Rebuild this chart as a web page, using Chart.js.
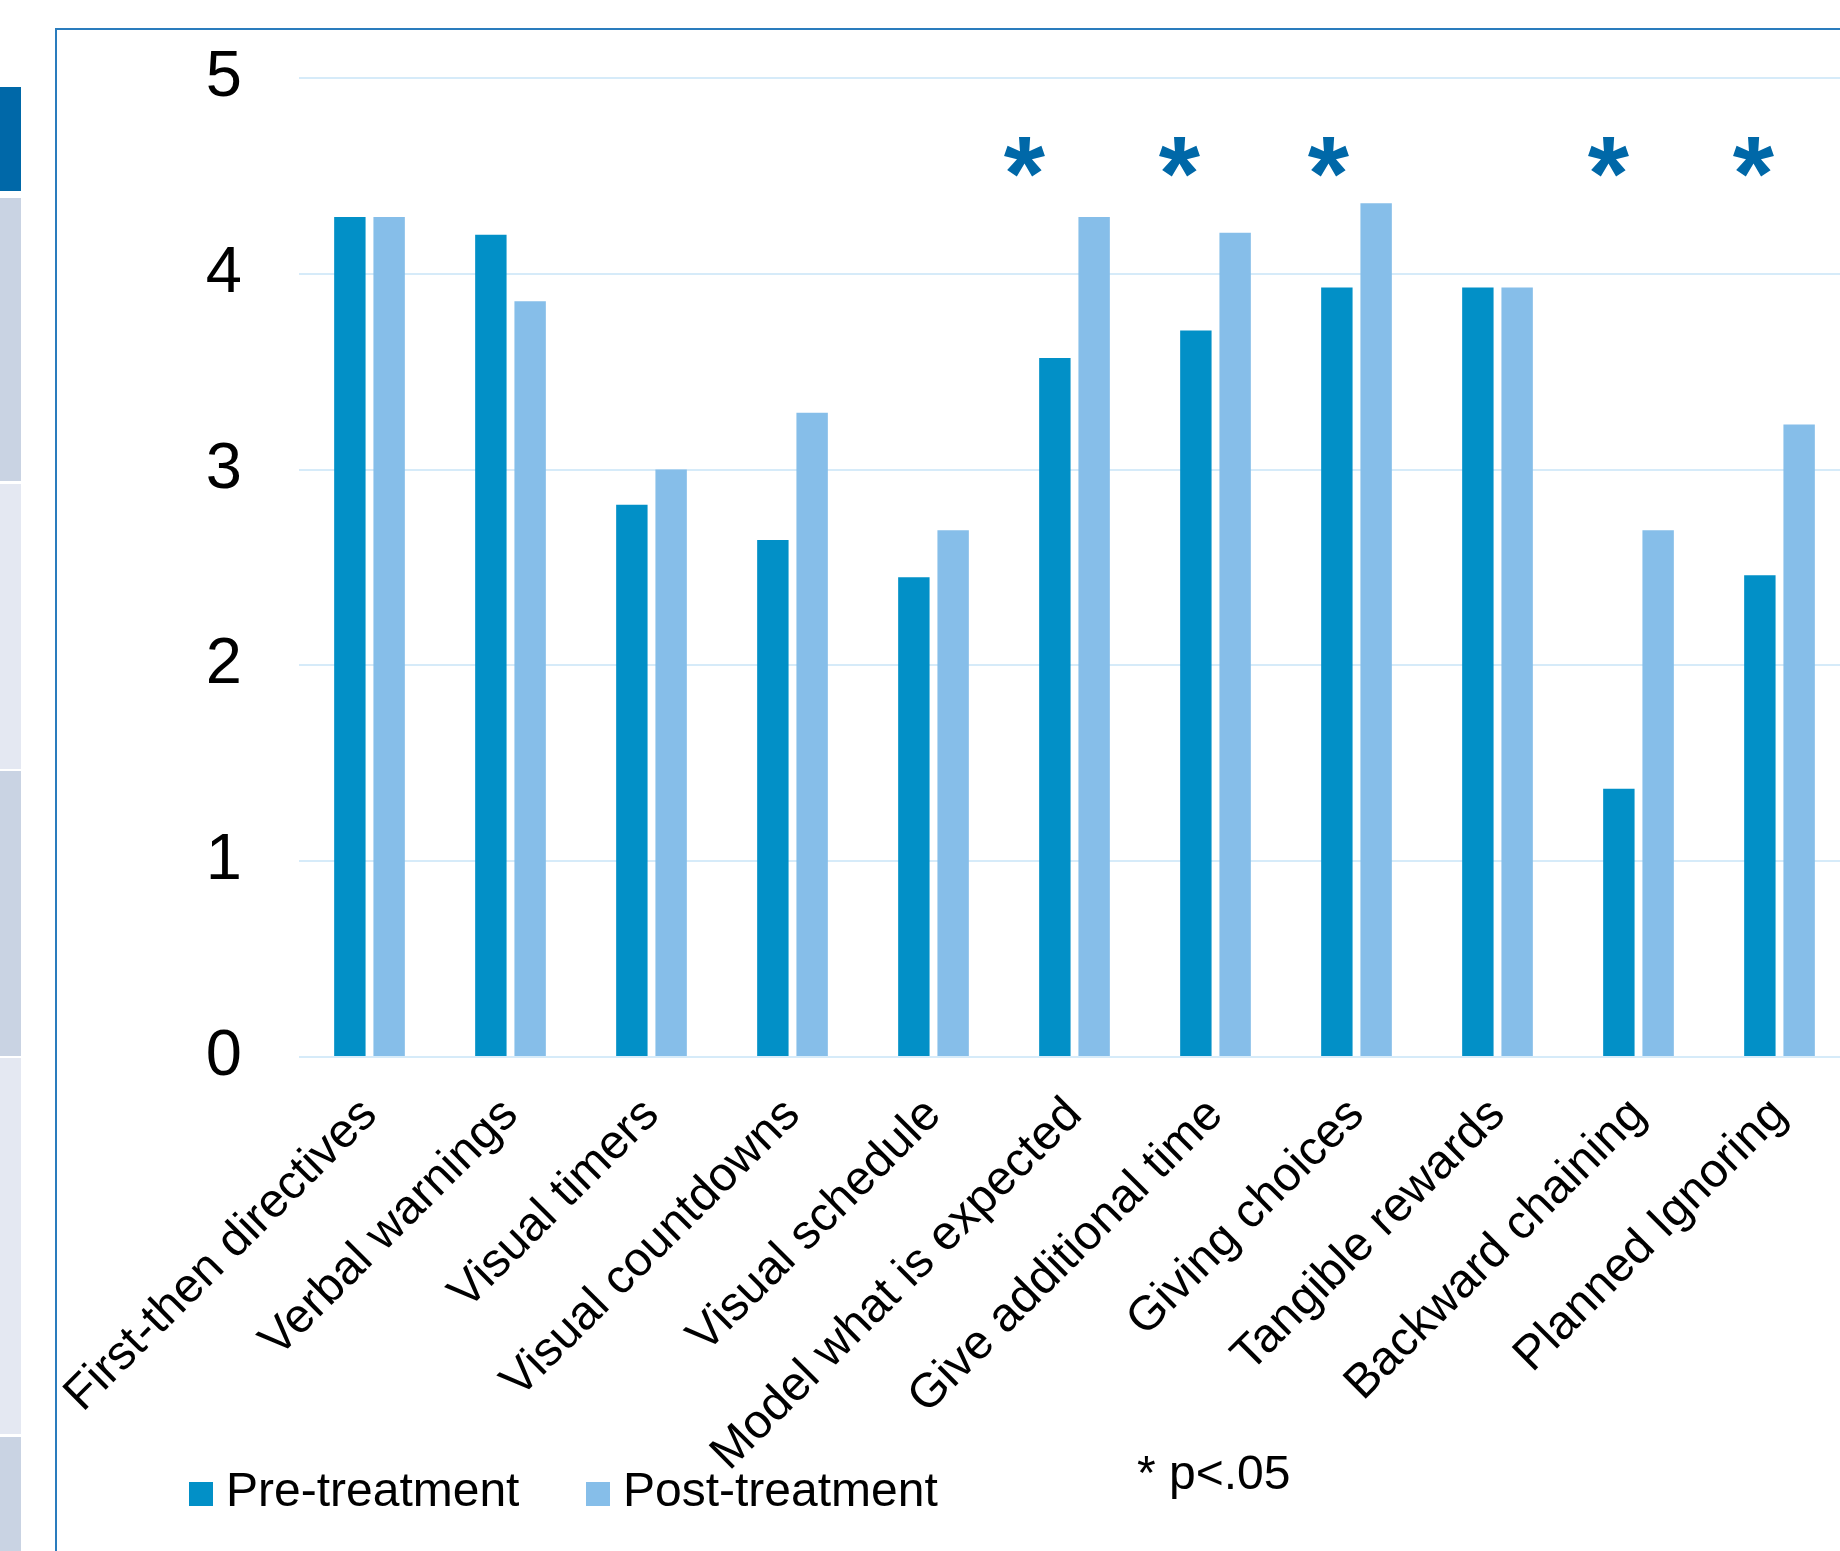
<!DOCTYPE html>
<html>
<head>
<meta charset="utf-8">
<script src="https://cdn.jsdelivr.net/npm/chart.js@4.4.1/dist/chart.umd.min.js"></script>
<style>
    body { margin: 0; width: 1840px; height: 1551px; overflow: hidden; background: #fff; }
    .cell { position: absolute; left: 0; width: 21px; }
    #frame { position: absolute; left: 55px; top: 28px; width: 1900px; height: 1600px;
             border-left: 2px solid #2a7cbd; border-top: 2px solid #2a7cbd; }
    #wrap { position: absolute; left: 0; top: 0; width: 1850px; height: 1551px; }
</style>
</head>
<body>
<div class="cell" style="top:87px;height:104px;background:#0068a8"></div>
<div class="cell" style="top:198px;height:283px;background:#c9d3e3"></div>
<div class="cell" style="top:484px;height:285px;background:#e4e8f2"></div>
<div class="cell" style="top:771px;height:285px;background:#c9d3e3"></div>
<div class="cell" style="top:1058px;height:376px;background:#e4e8f2"></div>
<div class="cell" style="top:1437px;height:120px;background:#c9d3e3"></div>
<div id="frame"></div>
<div id="wrap"><canvas id="chart"></canvas></div>
<script>
/**
 * Behaviour management strategies, pre vs post treatment
 */

const categories = ['First-then directives', 'Verbal warnings', 'Visual timers', 'Visual countdowns',
    'Visual schedule', 'Model what is expected', 'Give additional time', 'Giving choices',
    'Tangible rewards', 'Backward chaining', 'Planned Ignoring'];
const preTreatment = [4.29, 4.20, 2.82, 2.64, 2.45, 3.57, 3.71, 3.93, 3.93, 1.37, 2.46];
const postTreatment = [4.29, 3.86, 3.00, 3.29, 2.69, 4.29, 4.21, 4.36, 3.93, 2.69, 3.23];
const yTicks = [0, 1, 2, 3, 4, 5];
const significant = [5, 6, 7, 9, 10]; // p<.05
const starLevel = 4.63;
const starNudge = [-50, -36, -28, -30, -26]; // px, left of the group centre

const FONT = '"Liberation Sans", Arial, sans-serif';

const notes = {
    id: 'notes',
    afterDatasetsDraw(chart) {
        const ctx = chart.ctx;
        const x = chart.scales.x;
        const y = chart.scales.y;
        ctx.save();
        // asterisks over significant pairs
        ctx.fillStyle = '#0068a8';
        ctx.font = 'bold 106px ' + FONT;
        ctx.textAlign = 'center';
        ctx.textBaseline = 'alphabetic';
        significant.forEach((i, k) => {
            ctx.fillText('*', x.getPixelForValue(i) + starNudge[k], y.getPixelForValue(starLevel) + 0.56 * 106);
        });
        // legend
        ctx.font = '48px ' + FONT;
        ctx.textAlign = 'left';
        const legendX = [189, 586];
        chart.data.datasets.forEach((ds, k) => {
            ctx.fillStyle = ds.backgroundColor;
            ctx.fillRect(legendX[k], 1482, 24, 24);
            ctx.fillStyle = '#000';
            ctx.fillText(ds.label, legendX[k] + 37, 1506);
        });
        ctx.fillText('* p<.05', 1137, 1489);
        ctx.restore();
    }
};

function showChart() {
    const ctx = document.getElementById('chart');
    new Chart(ctx, {
        type: 'bar',
        data: {
            labels: categories,
            datasets: [{
                label: 'Pre-treatment',
                data: preTreatment,
                backgroundColor: '#0290c7'
            }, {
                label: 'Post-treatment',
                data: postTreatment,
                backgroundColor: '#86bee9'
            }]
        },
        options: {
            responsive: true,
            maintainAspectRatio: false,
            animation: false,
            datasets: {
                bar: {
                    categoryPercentage: 0.557,
                    barPercentage: 0.8
                }
            },
            layout: {
                padding: { top: 78, left: 0, right: 0, bottom: 0 }
            },
            plugins: {
                legend: { display: false },
                tooltip: { enabled: false }
            },
            scales: {
                y: {
                    min: 0,
                    max: 5,
                    afterFit: (scale) => {
                        scale.width = 299;
                        // big tick padding should not push the plot down
                        scale.paddingTop = 0;
                        scale.paddingBottom = 0;
                    },
                    afterBuildTicks: (scale) => { scale.ticks = yTicks.map(v => ({ value: v })); },
                    grid: { color: '#d6ebf9', lineWidth: 2, drawTicks: false },
                    border: { display: false },
                    ticks: {
                        padding: 57,
                        color: '#000',
                        font: { family: FONT, size: 65 }
                    }
                },
                x: {
                    afterFit: (scale) => { scale.height = 494; },
                    grid: { display: false },
                    border: { display: false },
                    ticks: {
                        autoSkip: false,
                        maxRotation: 45,
                        minRotation: 45,
                        padding: 22,
                        color: '#000',
                        font: { family: FONT, size: 48 }
                    }
                }
            }
        },
        plugins: [notes]
    });
}

showChart();
</script>
</body>
</html>
